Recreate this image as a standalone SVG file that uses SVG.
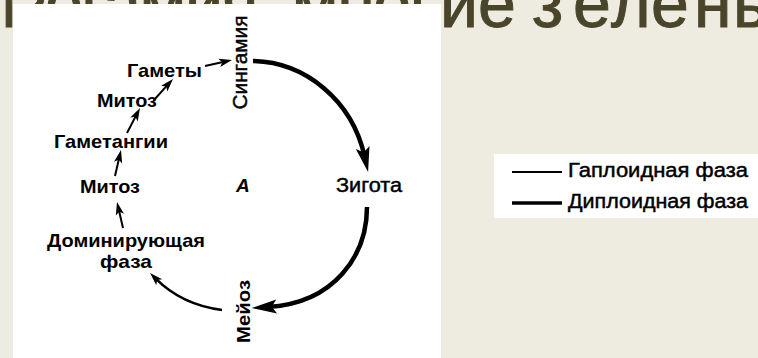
<svg xmlns="http://www.w3.org/2000/svg" width="758" height="358" viewBox="0 0 758 358">
<defs>
<style>
.title{font-family:"Liberation Sans",Arial,sans-serif;font-size:68px;fill:#4A452A;stroke:#4A452A;stroke-width:1}
.lb{font-family:"Liberation Sans",Arial,sans-serif;font-size:19px;font-weight:bold;fill:#000}
.lr{font-family:"Liberation Sans",Arial,sans-serif;font-size:20px;fill:#000;stroke:#000;stroke-width:0.45}
.thin{fill:none;stroke:#000;stroke-width:2}
.arc{fill:none;stroke:#000;stroke-width:2.5}
.thick{fill:none;stroke:#000;stroke-width:4.5}
</style>
<marker id="ah" markerUnits="userSpaceOnUse" markerWidth="30" markerHeight="30" refX="0" refY="0" orient="auto" style="overflow:visible"><path d="M8,0 L-5,-4.2 L-2,0 L-5,4.2 Z" fill="#000"/></marker>
<marker id="ahk" markerUnits="userSpaceOnUse" markerWidth="40" markerHeight="40" refX="0" refY="0" orient="auto" style="overflow:visible"><path d="M16,0 L-9,-7 L-4,0 L-9,7 Z" fill="#000"/></marker>
</defs>
<rect x="0" y="0" width="758" height="358" fill="#EEECE1"/>
<text class="title" x="-31.5" y="27" textLength="466" lengthAdjust="spacing">Изогамия: мног</text>
<text class="title" y="27" x="440 478 512 532 573 611 651 694 733 783">ие зеленые</text>
<rect x="13" y="4" width="428" height="354" fill="#fff"/>
<rect x="494" y="154" width="264" height="64" fill="#fff"/>

<g id="connectors">
<path class="thin" d="M205,66 L224.2,61.7" marker-end="url(#ah)"/>
<path class="thin" d="M154,100 L167.6,84.9" marker-end="url(#ah)"/>
<path class="thin" d="M127,133 L136.3,115.1" marker-end="url(#ah)"/>
<path class="thin" d="M115,176 L119.2,157.8" marker-end="url(#ah)"/>
<path class="thin" d="M123,228 L118.8,209.8" marker-end="url(#ah)"/>
<path class="arc" d="M222,310 Q182,305 155.7,278.7" marker-end="url(#ah)"/>
<path class="thick" d="M253,61 C305,62 352,100 364.6,156.3" marker-end="url(#ahk)"/>
<path class="thick" d="M367,207 C367,255 335,303 267.7,307.1" marker-end="url(#ahk)"/>
</g>

<g id="node-singamia"><text class="lr" transform="translate(247,62.5) rotate(-90)" text-anchor="middle" textLength="94" lengthAdjust="spacingAndGlyphs">Сингамия</text></g>
<g id="node-gamety"><text class="lb" x="127" y="77" textLength="75" lengthAdjust="spacingAndGlyphs">Гаметы</text></g>
<g id="node-mitoz1"><text class="lb" x="97" y="107" textLength="60" lengthAdjust="spacingAndGlyphs">Митоз</text></g>
<g id="node-gametangii"><text class="lb" x="54" y="148" textLength="114" lengthAdjust="spacingAndGlyphs">Гаметангии</text></g>
<g id="node-mitoz2"><text class="lb" x="80" y="193" textLength="60" lengthAdjust="spacingAndGlyphs">Митоз</text></g>
<g id="node-dominant"><text class="lb" x="47" y="247" textLength="158" lengthAdjust="spacingAndGlyphs">Доминирующая</text><text class="lb" x="100" y="268" textLength="52" lengthAdjust="spacingAndGlyphs">фаза</text></g>
<g id="node-A"><text class="lb" x="236" y="192" font-style="italic" font-size="22">A</text></g>
<g id="node-zigota"><text class="lr" x="336" y="192" textLength="66" lengthAdjust="spacingAndGlyphs">Зигота</text></g>
<g id="node-meioz"><text class="lb" transform="translate(250,311.5) rotate(-90)" text-anchor="middle" textLength="63" lengthAdjust="spacingAndGlyphs">Мейоз</text></g>

<g id="legend">
<line x1="512" y1="172" x2="562" y2="172" stroke="#000" stroke-width="2"/>
<line x1="512" y1="203" x2="562" y2="203" stroke="#000" stroke-width="3.5"/>
<text class="lr" x="568" y="177" textLength="180" lengthAdjust="spacingAndGlyphs">Гаплоидная фаза</text>
<text class="lr" x="568" y="208" textLength="180" lengthAdjust="spacingAndGlyphs">Диплоидная фаза</text>
</g>
</svg>
